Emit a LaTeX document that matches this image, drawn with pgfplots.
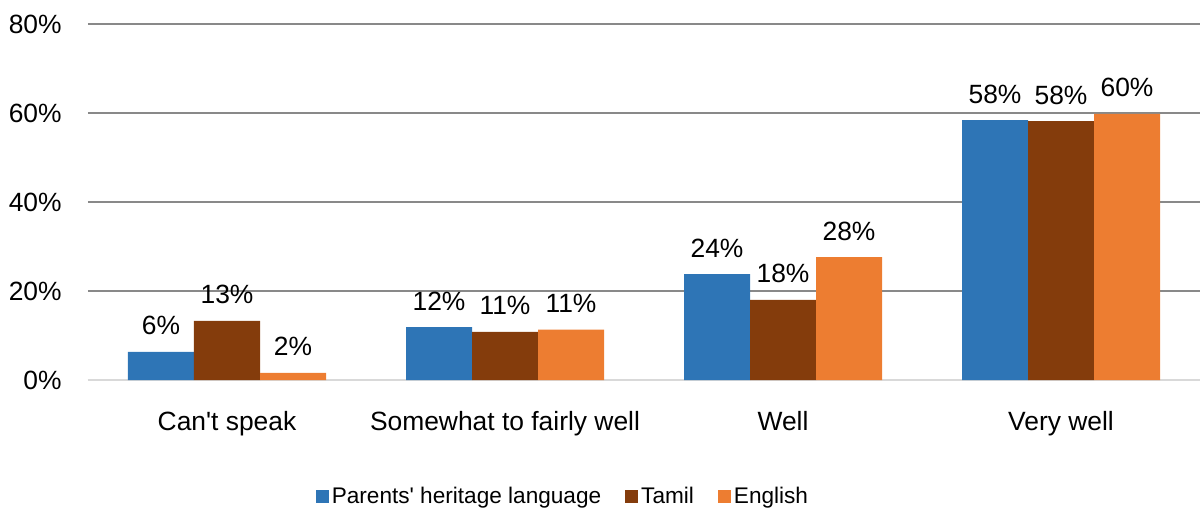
\documentclass[border=0pt]{standalone}
\usepackage{pgfplots}
\pgfplotsset{compat=1.18}
\usepackage{fontspec}
\setmainfont{Liberation Sans}[Ligatures=TeXOff]

\definecolor{cblue}{HTML}{2E75B6}
\definecolor{cbrown}{HTML}{843C0C}
\definecolor{corange}{HTML}{ED7D31}
\definecolor{gridc}{HTML}{898989}
\definecolor{basec}{HTML}{D9D9D9}

\begin{document}
\begin{tikzpicture}
\fontsize{13.2}{15}\selectfont
\begin{axis}[
  scale only axis, width=556pt, height=178pt,
  at={(0,0)}, anchor=south west,
  ybar=0pt, bar width=33pt,
  xmin=-0.5, xmax=3.5, ymin=0, ymax=80,
  xtick={0,1,2,3},
  xticklabels={Can't speak, Somewhat to fairly well, Well, Very well},
  ytick={0,20,40,60,80},
  yticklabel={\pgfmathprintnumber{\tick}\%},
  /pgf/number format/assume math mode=true,
  tick style={draw=none},
  x tick label style={inner sep=0pt, anchor=north, yshift=-11pt},
  y tick label style={inner sep=0pt, anchor=east, xshift=-13pt},
  ticklabel style={font=\fontsize{13.2}{15}\selectfont},
  axis x line*=bottom, axis y line*=left,
  x axis line style={draw=basec, line width=1pt},
  y axis line style={draw=none},
  ymajorgrids, grid style={draw=gridc, line width=0.75pt},
  nodes near coords={\pgfmathprintnumber[fixed,precision=0]{\pgfplotspointmeta}\%},
  every node near coord/.append style={anchor=base, yshift=8.5pt, font=\fontsize{13.2}{15}\selectfont},
  legend style={draw=none, at={(0.428,-0.3287)}, anchor=center,
    legend columns=-1, font=\fontsize{11.3}{13}\selectfont,
    /tikz/every even column/.append style={column sep=10pt},
    /tikz/every odd column/.append style={column sep=-0.5pt}},
  legend image code/.code={\fill[#1] (0pt,-3.2pt) rectangle (6.5pt,3.3pt);},
]
\addplot[fill=cblue, draw=none] coordinates {(0,6.3) (1,11.9) (2,23.8) (3,58.4)};
\addlegendentry{Parents' heritage language}
\addplot[fill=cbrown, draw=none] coordinates {(0,13.3) (1,10.8) (2,18.0) (3,58.2)};
\addlegendentry{Tamil}
\addplot[fill=corange, draw=none] coordinates {(0,1.6) (1,11.3) (2,27.6) (3,59.8)};
\addlegendentry{English}
\end{axis}
\pgfresetboundingbox
\useasboundingbox (-44pt,-65pt) rectangle (556pt,190pt);
\end{tikzpicture}
\end{document}
